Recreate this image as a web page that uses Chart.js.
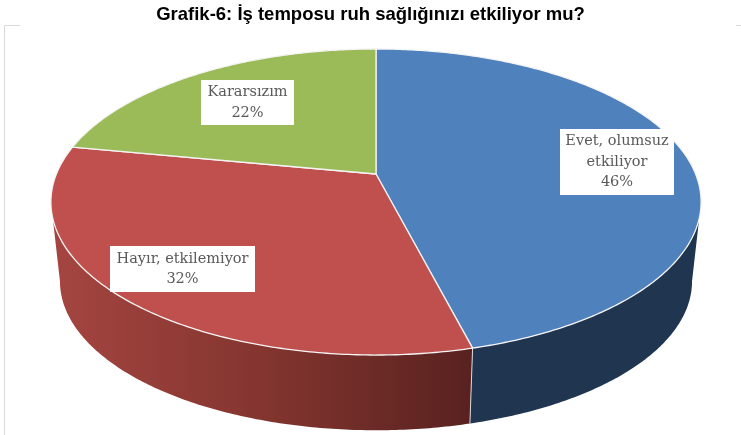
<!DOCTYPE html>
<html>
<head>
<meta charset="utf-8">
<title>Grafik-6</title>
<script src="https://cdn.jsdelivr.net/npm/chart.js@4"></script>
<style>
  html, body { margin: 0; padding: 0; background: #fff; }
  canvas { display: block; }
</style>
</head>
<body>
<canvas id="pie" width="741" height="435"></canvas>
<script>
const categories = ['Evet, olumsuz etkiliyor', 'Hayır, etkilemiyor', 'Kararsızım'];
const values = [46, 32, 22];
const labelLines = [['Evet, olumsuz', 'etkiliyor', '46%'], ['Hayır, etkilemiyor', '32%'], ['Kararsızım', '22%']];
const faceColors = ['#4f81bd', '#c0504d', '#9bbb59'];

// label boxes: left, top, right, bottom
const labelBoxes = [[560, 129, 674, 195], [110, 246, 255, 292], [201, 80, 294, 125]];

// the tilted disc, top and bottom rim, k is the perspective
const k = 0.183;
const topRim = { x: 376, y: 174, a: 319.6, b: 147.9 };
const bottomRim = { x: 376, y: 254, a: 310.7, b: 144 };
const wallFrom = 10.5 * Math.PI / 180;
const wallTo = 169.5 * Math.PI / 180;

function project(rim, angle) {
  const u = Math.cos(angle), v = Math.sin(angle);
  const w = 1 - k * v;
  return [rim.x + rim.a * u / w, rim.y + rim.b * v / w];
}

function arcPoints(rim, from, to) {
  const steps = Math.max(2, Math.ceil(Math.abs(to - from) * 90));
  const pts = [];
  for (let i = 0; i <= steps; i++) pts.push(project(rim, from + (to - from) * i / steps));
  return pts;
}

function wallFill(ctx, index) {
  if (index === 0) return '#1f3550';
  const g = ctx.createLinearGradient(52, 0, 468, 0);
  g.addColorStop(0, '#a54541');
  g.addColorStop(0.5, '#84352f');
  g.addColorStop(1, '#592220');
  return g;
}

const disc3d = {
  id: 'disc3d',
  beforeDatasetDraw(chart, args) {
    const ctx = chart.ctx;
    const arcs = args.meta.data;
    ctx.save();
    ctx.lineJoin = 'round';

    // side wall first, only the front part can be seen
    arcs.forEach((arc, i) => {
      const from = Math.max(arc.startAngle, wallFrom);
      const to = Math.min(arc.endAngle, wallTo);
      if (to <= from) return;
      const upper = arcPoints(topRim, from, to);
      const lower = arcPoints(bottomRim, to, from);
      ctx.beginPath();
      upper.concat(lower).forEach((p, n) => n ? ctx.lineTo(p[0], p[1]) : ctx.moveTo(p[0], p[1]));
      ctx.closePath();
      ctx.fillStyle = wallFill(ctx, i);
      ctx.fill();
    });

    // seam between the blue and red wall
    const seam = arcs[0].endAngle;
    const seamTop = project(topRim, seam), seamBottom = project(bottomRim, seam);
    ctx.strokeStyle = '#d9d9d9';
    ctx.lineWidth = 1;
    ctx.beginPath();
    ctx.moveTo(seamTop[0], seamTop[1]);
    ctx.lineTo(seamBottom[0], seamBottom[1]);
    ctx.stroke();

    // top face
    arcs.forEach((arc, i) => {
      ctx.beginPath();
      ctx.moveTo(topRim.x, topRim.y);
      arcPoints(topRim, arc.startAngle, arc.endAngle).forEach(p => ctx.lineTo(p[0], p[1]));
      ctx.closePath();
      ctx.fillStyle = faceColors[i];
      ctx.fill();
      ctx.strokeStyle = '#f4f4f4';
      ctx.lineWidth = 1.3;
      ctx.stroke();
    });
    ctx.restore();
    return false;
  },
  afterDraw(chart) {
    const ctx = chart.ctx;
    ctx.save();
    // what is left of the chart frame
    ctx.strokeStyle = '#d9d9d9';
    ctx.lineWidth = 1;
    ctx.beginPath();
    ctx.moveTo(20, 25.5);
    ctx.lineTo(4.5, 25.5);
    ctx.lineTo(4.5, 435);
    ctx.moveTo(736, 25.5);
    ctx.lineTo(741, 25.5);
    ctx.stroke();

    ctx.font = '14.5px "DejaVu Serif"';
    ctx.textAlign = 'center';
    ctx.textBaseline = 'middle';
    labelBoxes.forEach((box, i) => {
      ctx.fillStyle = '#ffffff';
      ctx.fillRect(box[0], box[1], box[2] - box[0], box[3] - box[1]);
      ctx.fillStyle = '#595959';
      const lines = labelLines[i];
      const cx = (box[0] + box[2]) / 2, cy = (box[1] + box[3]) / 2;
      lines.forEach((line, n) => ctx.fillText(line, cx, cy + (n - (lines.length - 1) / 2) * 20.5));
    });
    ctx.restore();
  }
};

new Chart(document.getElementById('pie').getContext('2d'), {
  type: 'pie',
  data: {
    labels: categories,
    datasets: [{ data: values, backgroundColor: faceColors }]
  },
  plugins: [disc3d],
  options: {
    responsive: false,
    animation: false,
    events: [],
    layout: { padding: 0 },
    plugins: {
      legend: { display: false },
      tooltip: { enabled: false },
      title: {
        display: true,
        text: 'Grafik-6: İş temposu ruh sağlığınızı etkiliyor mu?',
        color: '#000000',
        font: { family: '"Liberation Sans"', size: 18.5, weight: 'bold' },
        padding: { top: 4, bottom: 5 }
      }
    }
  }
});
</script>
</body>
</html>
